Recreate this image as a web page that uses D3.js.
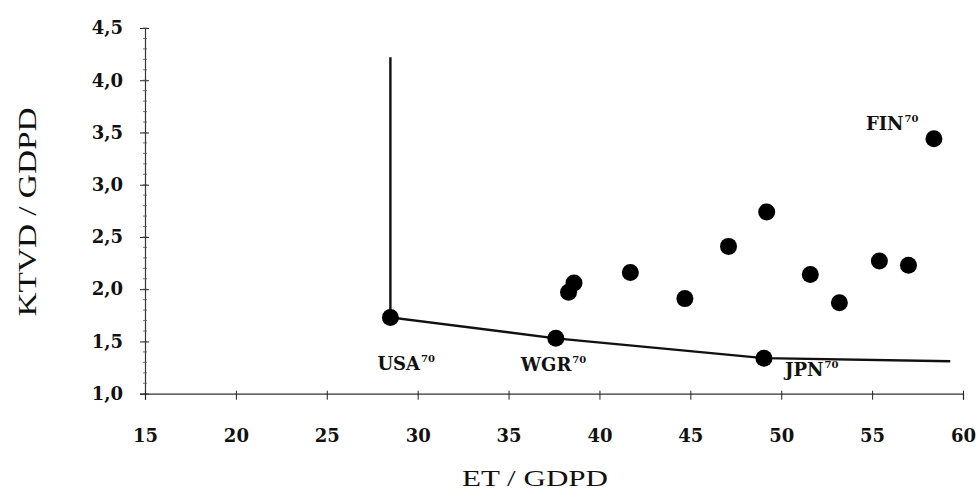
<!DOCTYPE html>
<html>
<head>
<style>
  body { margin: 0; background: #fff; }
  svg text { fill: #111; }
</style>
</head>
<body>
<div id="chart"></div>
<script src="https://d3js.org/d3.v7.min.js"></script>
<script>
// scatter points: ET / GDPD (x) and KTVD / GDPD (y)
const etValues   = [28.5, 37.6, 49.05, 38.3, 38.6, 41.7, 44.7, 47.1, 49.2, 51.6, 53.2, 55.4, 57.0, 58.4];
const ktvdValues = [1.73, 1.53, 1.34, 1.97, 2.06, 2.16, 1.91, 2.41, 2.74, 2.14, 1.87, 2.27, 2.23, 3.44];

// frontier line (vertical start, through USA, WGR, JPN, then flat)
const frontierX = [28.5, 28.5, 37.6, 49.05, 59.3];
const frontierY = [4.22, 1.73, 1.53, 1.34, 1.31];

// labelled countries
const labelNames = ['USA', 'WGR', 'JPN', 'FIN'];
const labelX = [28.5, 37.6, 49.05, 58.4];
const labelY = [1.73, 1.53, 1.34, 3.44];
const labelSup = ['70', '70', '70', '70'];

const xTicks = [15, 20, 25, 30, 35, 40, 45, 50, 55, 60];
const yTicks = [1.0, 1.5, 2.0, 2.5, 3.0, 3.5, 4.0, 4.5];
const yMinor = d3.range(10, 46).map(v => v / 10);

const width = 979, height = 495;
const svg = d3.select('#chart').append('svg')
  .attr('width', width)
  .attr('height', height);

const x = d3.scaleLinear().domain([15, 60]).range([145, 963]);
const y = d3.scaleLinear().domain([1, 4.5]).range([393.7, 28]);

const comma = v => d3.format('.1f')(v).replace('.', ',');
const tickFont = "bold 18px 'DejaVu Serif', serif";

// y axis
const yAxis = svg.append('g')
  .attr('transform', `translate(${x(15)},0)`)
  .call(d3.axisLeft(y).tickValues(yTicks).tickFormat(comma).tickSize(5).tickPadding(17));
yAxis.select('.domain').attr('stroke', '#333').attr('stroke-width', 1.2);
yAxis.selectAll('.tick line').attr('x2', 4).attr('x1', -5).attr('stroke', '#222');
yAxis.selectAll('.tick text').style('font', tickFont).attr('fill', '#111');
yAxis.selectAll('.minor').data(yMinor).enter().append('line')
  .attr('class', 'minor')
  .attr('x1', -2).attr('x2', 2)
  .attr('y1', d => y(d)).attr('y2', d => y(d))
  .attr('stroke', '#555').attr('stroke-width', 0.8);

// x axis
const xAxis = svg.append('g')
  .attr('transform', `translate(0,${y(1)})`)
  .call(d3.axisBottom(x).tickValues(xTicks).tickFormat(d3.format('d')).tickSize(6));
xAxis.select('.domain').attr('stroke', '#333').attr('stroke-width', 1.2);
xAxis.selectAll('.tick line').attr('y1', -3).attr('stroke', '#222');
xAxis.selectAll('.tick text').style('font', tickFont).attr('fill', '#111')
  .attr('y', 48).attr('dy', 0);

// axis titles
svg.append('text')
  .attr('x', 535).attr('y', 486)
  .attr('text-anchor', 'middle')
  .attr('textLength', 146).attr('lengthAdjust', 'spacingAndGlyphs')
  .style('font', "24px 'Liberation Serif', serif")
  .text('ET / GDPD');

svg.append('text')
  .attr('transform', 'translate(36,212) rotate(-90)')
  .attr('text-anchor', 'middle')
  .attr('textLength', 209).attr('lengthAdjust', 'spacingAndGlyphs')
  .style('font', "25px 'Liberation Serif', serif")
  .text('KTVD / GDPD');

// frontier
const frontier = frontierX.map((d, i) => [d, frontierY[i]]);
svg.append('path')
  .datum(frontier)
  .attr('fill', 'none')
  .attr('stroke', '#111')
  .attr('stroke-width', 2.4)
  .attr('d', d3.line().x(d => x(d[0])).y(d => y(d[1])));

// points
svg.selectAll('circle.pt')
  .data(etValues.map((d, i) => [d, ktvdValues[i]]))
  .enter().append('circle')
  .attr('class', 'pt')
  .attr('cx', d => x(d[0]))
  .attr('cy', d => y(d[1]))
  .attr('r', 8.5)
  .attr('fill', '#000');

// labels
const labelOffset = [[-13, 53], [-35, 33], [21, 18], [-68, -9]];
const labels = svg.selectAll('text.lbl')
  .data(labelNames)
  .enter().append('text')
  .attr('class', 'lbl')
  .attr('x', (d, i) => x(labelX[i]) + labelOffset[i][0])
  .attr('y', (d, i) => y(labelY[i]) + labelOffset[i][1])
  .style('font', "bold 18px 'DejaVu Serif', serif");
labels.append('tspan').text(d => d);
labels.append('tspan')
  .attr('dy', -8).attr('dx', 1)
  .style('font-size', '10px')
  .text((d, i) => labelSup[i]);
</script>
</body>
</html>
